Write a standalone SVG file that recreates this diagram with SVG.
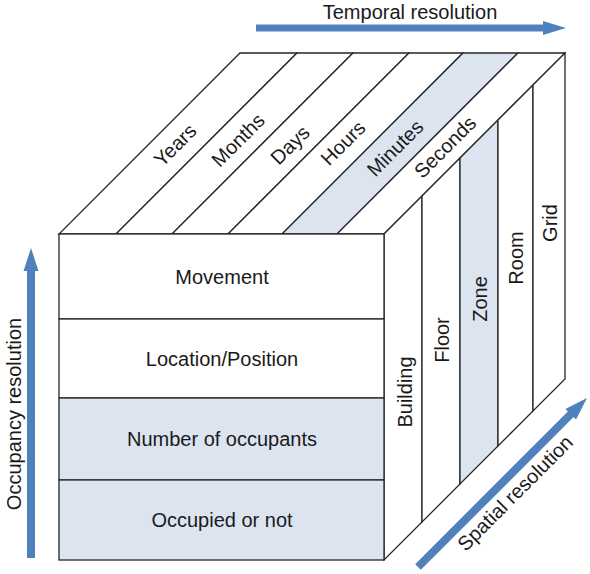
<svg xmlns="http://www.w3.org/2000/svg" width="590" height="574" viewBox="0 0 590 574">
<style>
.c{stroke:#262626;stroke-width:1.3;stroke-linejoin:miter}
.w{fill:#ffffff}
.s{fill:#dce4f0}
.t{font-family:"Liberation Sans",Arial,sans-serif;font-size:20px;fill:#1a1a1a;text-anchor:middle}
.ax{fill:#4f81bd}
</style>
<rect width="590" height="574" fill="#ffffff"/>
<g id="top-face">
<g id="top-years"><polygon class="c w" points="59,234 116,234 297,53 240,53"/><text class="t" transform="translate(175,145) rotate(-45)" y="7">Years</text></g>
<g id="top-months"><polygon class="c w" points="116,234 172,234 353,53 297,53"/><text class="t" transform="translate(238,140) rotate(-45)" y="7">Months</text></g>
<g id="top-days"><polygon class="c w" points="172,234 228,234 409,53 353,53"/><text class="t" transform="translate(290,145) rotate(-45)" y="7">Days</text></g>
<g id="top-hours"><polygon class="c w" points="228,234 282,234 463,53 409,53"/><text class="t" transform="translate(343,143) rotate(-45)" y="7">Hours</text></g>
<g id="top-minutes"><polygon class="c s" points="282,234 337,234 518,53 463,53"/><text class="t" transform="translate(395,148) rotate(-45)" y="7">Minutes</text></g>
<g id="top-seconds"><polygon class="c w" points="337,234 384,234 565,53 518,53"/><text class="t" transform="translate(445,147) rotate(-45)" y="7">Seconds</text></g>
</g>
<g id="right-face">
<g id="side-building"><polygon class="c w" points="384,234 422,196 422,522 384,560"/><text class="t" transform="translate(405,392) rotate(-90)" y="7">Building</text></g>
<g id="side-floor"><polygon class="c w" points="422,196 460,158 460,484 422,522"/><text class="t" transform="translate(442,340) rotate(-90)" y="7">Floor</text></g>
<g id="side-zone"><polygon class="c s" points="460,158 498,120 498,446 460,484"/><text class="t" transform="translate(480,299) rotate(-90)" y="7">Zone</text></g>
<g id="side-room"><polygon class="c w" points="498,120 533,85 533,411 498,446"/><text class="t" transform="translate(516,258) rotate(-90)" y="7">Room</text></g>
<g id="side-grid"><polygon class="c w" points="533,85 565,53 565,379 533,411"/><text class="t" transform="translate(550,223) rotate(-90)" y="7">Grid</text></g>
</g>
<g id="front-face">
<g id="row-movement"><rect class="c w" x="59" y="234" width="325" height="85"/><text class="t" x="222" y="284">Movement</text></g>
<g id="row-location"><rect class="c w" x="59" y="319" width="325" height="79"/><text class="t" x="222" y="366">Location/Position</text></g>
<g id="row-number"><rect class="c s" x="59" y="398" width="325" height="82"/><text class="t" x="222" y="446">Number of occupants</text></g>
<g id="row-occupied"><rect class="c s" x="59" y="480" width="325" height="80"/><text class="t" x="222" y="527">Occupied or not</text></g>
</g>
<g id="connectors">
<g id="axis-temporal"><polygon class="ax" points="256,24.5 543,24.5 543,21 566,28 543,35 543,31.5 256,31.5"/><text class="t" x="410" y="18.5">Temporal resolution</text></g>
<g id="axis-occupancy"><polygon class="ax" points="27,558 27,271 23.5,271 31,248 38.5,271 35,271 35,558"/><text class="t" transform="translate(14,414) rotate(-90)" y="7">Occupancy resolution</text></g>
<g id="axis-spatial"><polygon class="ax" transform="translate(418,567) rotate(-45)" points="0,-4 216,-4 216,-7.5 239,0 216,7.5 216,4 0,4"/><text class="t" transform="translate(515,493) rotate(-45)" y="7">Spatial resolution</text></g>
</g>
</svg>
